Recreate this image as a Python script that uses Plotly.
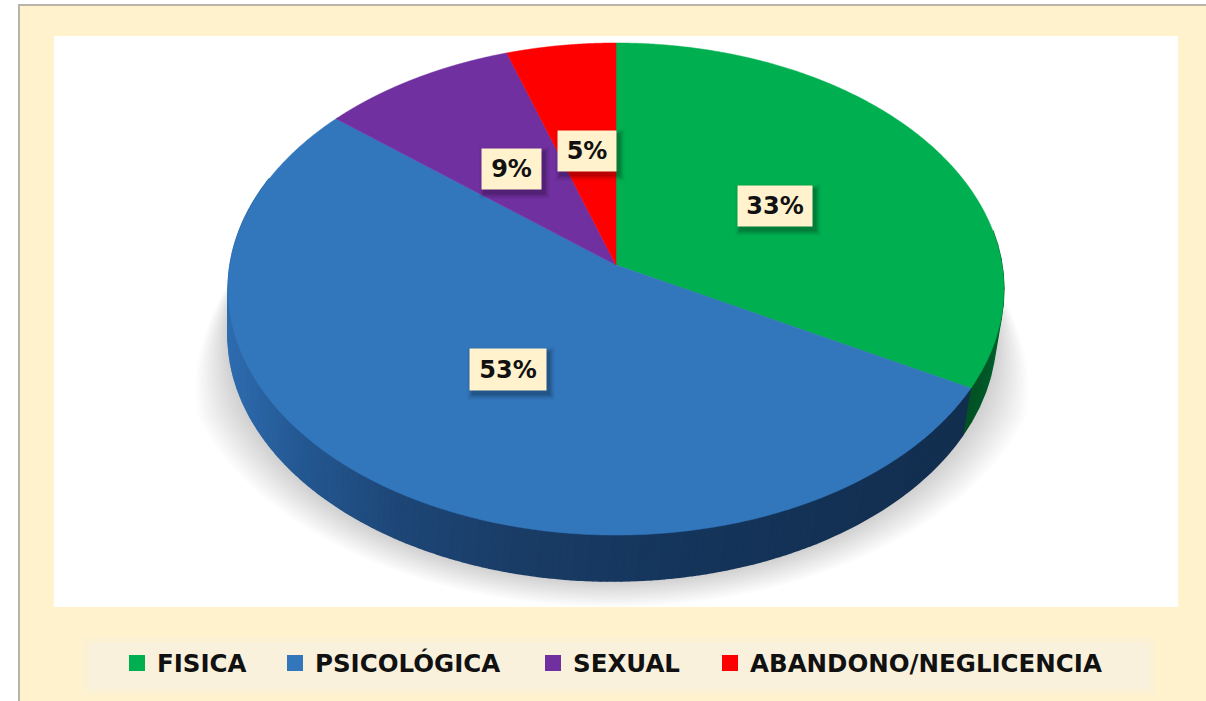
import numpy as np
import plotly.graph_objects as go

categories = ["FISICA", "PSICOLÓGICA", "SEXUAL", "ABANDONO/NEGLICENCIA"]
values = [33, 53, 9, 5]
colors = ["#00B050", "#3277BC", "#7030A0", "#FF0000"]
label_boxes = [(737, 813, 185, 227), (469, 547, 348, 391), (481, 542, 148, 190), (557, 617, 130, 172)]
legend_x = [117, 275, 533, 710]

W, H = 1206, 701
APEX_X, APEX_Y = 616.0, 265.0
A, B, K = 386.0, 243.7, 0.0976
WALL = 46.0
FONT = "DejaVu Sans"


def top_edge(theta):
    """Clockwise angle from 12 o'clock -> point on the tilted disc rim."""
    w = 1 + K * np.cos(theta)
    return APEX_X + A * np.sin(theta) / w, APEX_Y - B * np.cos(theta) / w


def bottom_edge(theta):
    x, y = top_edge(theta)
    return APEX_X - 4 + (x - APEX_X) * 0.99, y + WALL


def lerp_color(stops, x):
    xs = [s[0] for s in stops]
    rgb = [np.interp(x, xs, [s[1][i] for s in stops]) for i in range(3)]
    return "rgb(%d,%d,%d)" % tuple(int(round(c)) for c in rgb)


blue_wall = [(228, (46, 108, 176)), (300, (36, 88, 146)), (400, (29, 70, 118)),
             (520, (25, 60, 102)), (700, (20, 52, 90)), (980, (18, 46, 78))]
green_wall = [(970, (0, 78, 34)), (1005, (0, 96, 44))]

fig = go.Figure()

# ---- chrome and soft drop shadow (drawn below the traces)
shapes = [
    dict(type="rect", layer="below", x0=18, x1=W, y0=4, y1=H, fillcolor="#B9B4A9", line_width=0),
    dict(type="rect", layer="below", x0=20, x1=W, y0=6, y1=H, fillcolor="#FFF2CC", line_width=0),
    dict(type="rect", layer="below", x0=54, x1=1178, y0=36, y1=607, fillcolor="#FFFFFF", line_width=0),
    dict(type="rect", layer="below", x0=82, x1=1156, y0=637, y1=695, fillcolor="#FDF1D4", line_width=0),
    dict(type="rect", layer="below", x0=88, x1=1150, y0=642, y1=690, fillcolor="#FAF1DC", line_width=0),
]
t = np.radians(np.linspace(-12, 192, 240))
for q in np.linspace(1, 0.03, 16):
    y0 = 335 + 246 * np.sin(t)
    f = np.clip((y0 - 270) / 140, 0, 1)
    xs = 612 + (384 + 50 * q * f) * np.cos(t)
    ys = 335 + (246 + 26 * q) * np.sin(t)
    path = "M" + " L".join(f"{a:.1f},{b:.1f}" for a, b in zip(xs, ys)) + " Z"
    shapes.append(dict(type="path", layer="below", path=path, fillcolor="rgba(0,0,0,0.012)", line_width=0))

# ---- pie geometry from the values
edges = 2 * np.pi * np.cumsum([0] + values) / sum(values)

# side wall: fine strips so that its shading can vary
for i, stops in [(0, green_wall), (1, blue_wall)]:
    ths = np.linspace(max(edges[i], np.pi / 2.2), min(edges[i + 1], 1.62 * np.pi), 180 if i else 12)
    for a, b in zip(ths[:-1], ths[1:]):
        x1, y1 = top_edge(np.array([a, b]))
        x2, y2 = bottom_edge(np.array([b, a]))
        col = lerp_color(stops, float((x1[0] + x1[1]) / 2))
        fig.add_trace(go.Scatter(
            x=list(x1) + list(x2), y=list(y1) + list(y2), mode="lines", fill="toself",
            fillcolor=col, line=dict(color=col, width=1.5), hoverinfo="skip", showlegend=False))

# top surface
for i, (cat, col) in enumerate(zip(categories, colors)):
    ths = np.linspace(edges[i], edges[i + 1], 400)
    x, y = top_edge(ths)
    fig.add_trace(go.Scatter(
        x=[APEX_X] + list(x) + [APEX_X], y=[APEX_Y] + list(y) + [APEX_Y],
        mode="lines", fill="toself", fillcolor=col, line=dict(color=col, width=0.5, simplify=False),
        name=cat, text=f"{cat}: {values[i]}%", hoverinfo="text", showlegend=False))

# ---- legend: one native legend per entry, so each sits exactly where it should
legends = {}
for i, (cat, col) in enumerate(zip(categories, colors)):
    key = "legend" if i == 0 else f"legend{i + 1}"
    fig.add_trace(go.Scatter(
        x=[None], y=[None], mode="markers", name=cat, legend=key,
        marker=dict(symbol="square", size=16, color=col), hoverinfo="skip"))
    legends[key] = dict(x=legend_x[i] / W, y=1 - 663 / H, xanchor="left", yanchor="middle",
                        bgcolor="rgba(0,0,0,0)", itemwidth=30,
                        font=dict(family=FONT, size=24.5, color="#111111", weight="bold"))

# ---- value labels with their drop shadows
annotations = []
for v, (x0, x1, y0, y1) in zip(values, label_boxes):
    for grow, alpha in [(5, 0.025), (4, 0.035), (3, 0.045), (2, 0.055), (1, 0.065), (0, 0.075)]:
        shapes.append(dict(type="rect", layer="above", x0=x0 + 3 - grow, x1=x1 + 3 + grow,
                           y0=y0 + 4 - grow, y1=y1 + 4 + grow,
                           fillcolor=f"rgba(0,0,0,{alpha})", line_width=0))
    annotations.append(dict(
        x=(x0 + x1) / 2, y=(y0 + y1) / 2, xref="x", yref="y", text=f"<b>{v}%</b>", showarrow=False,
        width=x1 - x0 - 2, height=y1 - y0 - 2, bgcolor="#FFF2CC", align="center", valign="middle", borderpad=0,
        font=dict(family=FONT, size=24, color="#111111")))

fig.update_layout(
    width=W, height=H, margin=dict(l=0, r=0, t=0, b=0), showlegend=True,
    paper_bgcolor="#FFFFFF", plot_bgcolor="rgba(0,0,0,0)",
    xaxis=dict(range=[0, W], visible=False, fixedrange=True),
    yaxis=dict(range=[H, 0], visible=False, fixedrange=True),
    shapes=shapes, annotations=annotations, **legends)

fig.write_html("out.html", post_script="document.body.style.margin='0';", config={"displayModeBar": False})
